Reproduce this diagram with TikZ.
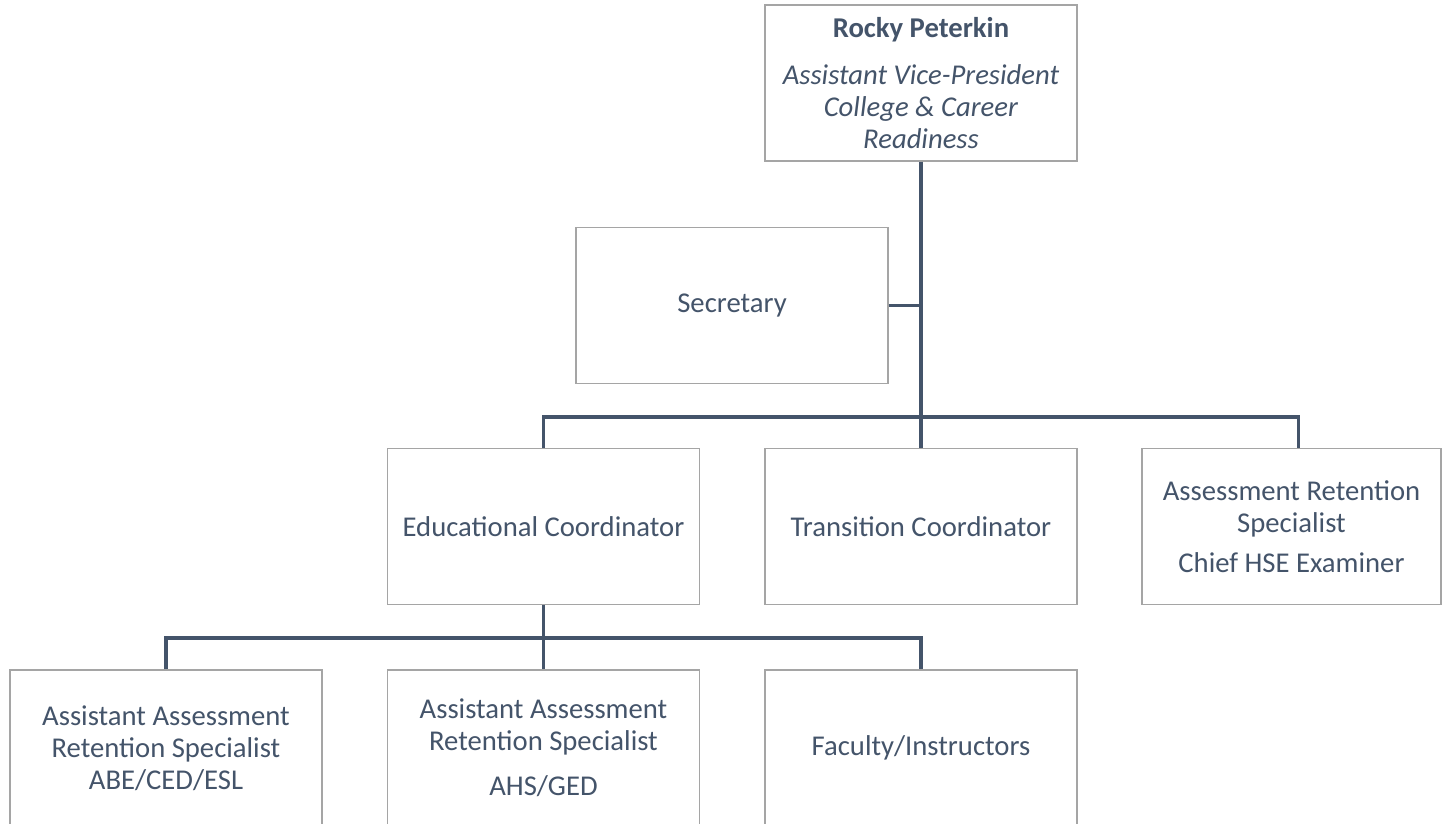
\documentclass[tikz,border=0pt]{standalone}
\usepackage{fontspec}
\setmainfont{Carlito}
\definecolor{slate}{RGB}{68,84,106}
\definecolor{boxgray}{RGB}{165,165,165}
\tikzset{every picture/.style={line width=0.75pt}}
\tikzset{
  post/.style={draw=boxgray, line width=1.1pt, fill=white, minimum width=234pt, minimum height=117pt,
    text=slate, align=center, inner sep=0pt, font=\fontsize{21.5}{24}\selectfont},
  link/.style={draw=slate, line width=2.5pt}
}
\begin{document}
\begin{tikzpicture}[x=0.75pt,y=0.75pt,yscale=-1,xscale=1]
\useasboundingbox (0,0) rectangle (1442,824);
% Boxes
\node [post] (avp) at (921,83) {\textbf{Rocky Peterkin}\\[11pt]\textit{Assistant Vice-President}\\\textit{College \& Career}\\\textit{Readiness}};
\node [post] (sec) at (732,305.5) {Secretary};
\node [post] (edu) at (543.5,526.5) {Educational Coordinator};
\node [post] (trans) at (921,526.5) {Transition Coordinator};
\node [post, minimum width=224.25pt] (ars) at (1291.5,526.5) {Assessment Retention\\Specialist\\[6pt]Chief HSE Examiner};
\node [post] (aarsa) at (166,748) {Assistant Assessment\\Retention Specialist\\ABE/CED/ESL};
\node [post] (aarsb) at (543.5,748) {Assistant Assessment\\Retention Specialist\\[10pt]AHS/GED};
\node [post] (fac) at (921,748) {Faculty/Instructors};
% Junctions
\coordinate (busa) at (921,417);
\coordinate (busb) at (543.5,638);
\coordinate (arstop) at ([xshift=5pt]ars.north);
% Lines
\draw [link] (avp.south) -- (busa);
\draw [link] (sec.east) -- (sec.east -| avp.south);
\draw [link] (edu.north) |- (busa) -| (arstop);
\draw [link] (trans.north) -- (busa);
\draw [link] (edu.south) -- (aarsb.north);
\draw [link] (aarsa.north) |- (busb) -| (fac.north);
\end{tikzpicture}
\end{document}
